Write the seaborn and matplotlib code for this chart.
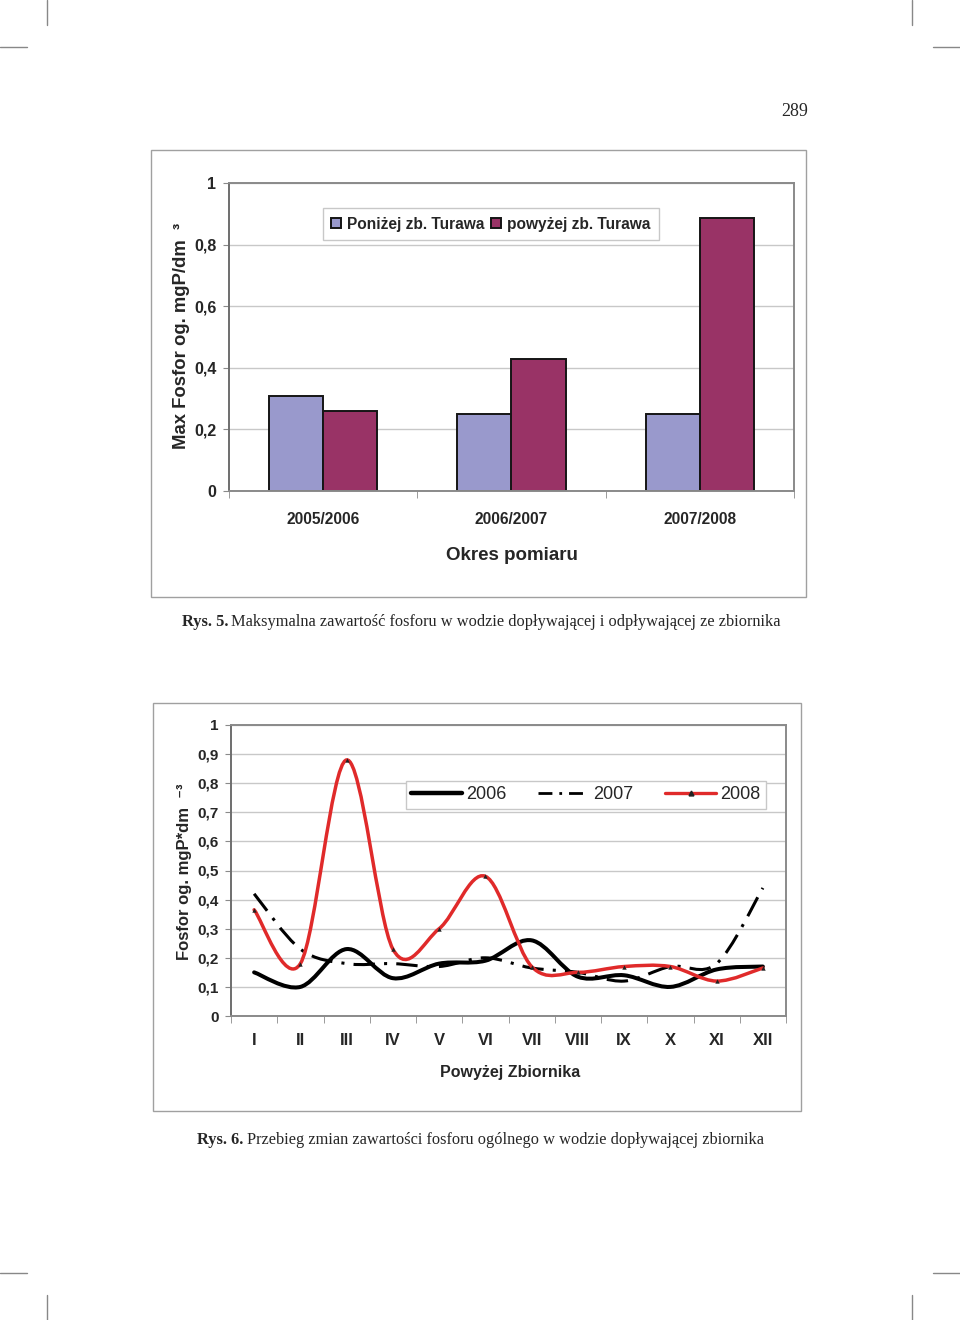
import numpy as np
import pandas as pd
import seaborn as sns
import matplotlib.pyplot as plt
from matplotlib.path import Path
from matplotlib.patches import PathPatch, Rectangle
from matplotlib.lines import Line2D

# Rys. 5 - max phosphorus per season
okresy = ['2005/2006', '2006/2007', '2007/2008']
ponizej = [0.31, 0.25, 0.25]
powyzej = [0.26, 0.43, 0.885]
stacje = ['Poniżej zb. Turawa', 'powyżej zb. Turawa']

# Rys. 6 - monthly phosphorus above the reservoir
miesiace = ['I', 'II', 'III', 'IV', 'V', 'VI', 'VII', 'VIII', 'IX', 'X', 'XI', 'XII']
p2006 = [0.15, 0.10, 0.23, 0.13, 0.18, 0.19, 0.26, 0.135, 0.14, 0.10, 0.16, 0.17]
p2007 = [0.42, 0.23, 0.18, 0.18, 0.17, 0.20, 0.165, 0.15, 0.12, 0.17, 0.18, 0.44]
p2008 = [0.365, 0.18, 0.88, 0.23, 0.30, 0.48, 0.17, 0.15, 0.17, 0.17, 0.12, 0.165]

W, H = 960, 1320
SANS = ['Liberation Sans', 'DejaVu Sans']
SERIF = ['Liberation Serif', 'DejaVu Serif']
GRID = '#c8c8c8'
FRAME = '#8a8a8a'


def fx(x):
    return x / W


def fy(y):
    return 1 - y / H


def smooth_path(xs, ys):
    # Excel-like smoothed line (Catmull-Rom as cubic Bezier)
    pts = np.column_stack([xs, ys]).astype(float)
    n = len(pts)
    verts, codes = [pts[0]], [Path.MOVETO]
    for i in range(n - 1):
        p0 = pts[max(i - 1, 0)]
        p1, p2 = pts[i], pts[i + 1]
        p3 = pts[min(i + 2, n - 1)]
        verts += [p1 + (p2 - p0) / 6, p2 - (p3 - p1) / 6, p2]
        codes += [Path.CURVE4] * 3
    return Path(verts, codes)


def style_axes(ax):
    for name, s in ax.spines.items():
        s.set_visible(True)
        s.set_color('#6e6e6e' if name == 'left' else FRAME)
        s.set_linewidth(1.4)
    ax.set_facecolor('white')
    ax.grid(axis='y', color=GRID, lw=1)
    ax.grid(axis='x', visible=False)
    ax.set_axisbelow(True)
    ax.set_xlabel('')
    ax.set_ylabel('')


sns.set_style('white')
plt.rcParams['font.family'] = SANS
plt.rcParams['font.weight'] = 'bold'

fig = plt.figure(figsize=(9.6, 13.2), dpi=100)

# page decoration: crop marks + page number
for x in (47, 912):
    fig.add_artist(Line2D([fx(x), fx(x)], [fy(0), fy(25)], color='#888888', lw=1))
    fig.add_artist(Line2D([fx(x), fx(x)], [fy(1295), fy(1320)], color='#888888', lw=1))
for y in (47, 1273):
    fig.add_artist(Line2D([fx(0), fx(27)], [fy(y), fy(y)], color='#888888', lw=1))
    fig.add_artist(Line2D([fx(933), fx(960)], [fy(y), fy(y)], color='#888888', lw=1))
fig.text(fx(795), fy(111), '289', family=SERIF, weight='normal', fontsize=13,
         ha='center', va='center')

# ---------- Rys. 5 ----------
fig.add_artist(Rectangle((fx(151), fy(597)), 655 / W, 447 / H, fill=False,
                         edgecolor='#a0a0a0', lw=1))
ax1 = fig.add_axes([fx(229), fy(491), 565 / W, 308 / H])
df5 = pd.DataFrame({
    'okres': okresy * 2,
    'wartosc': ponizej + powyzej,
    'stacja': [stacje[0]] * 3 + [stacje[1]] * 3,
})
sns.barplot(data=df5, x='okres', y='wartosc', hue='stacja',
            palette=['#9999cc', '#993366'], saturation=1, width=0.575, gap=0,
            edgecolor='#151515', linewidth=1.4, errorbar=None, ax=ax1)
style_axes(ax1)
ax1.set_xlim(-0.5, 2.5)
ax1.set_ylim(0, 1)
ax1.set_yticks(np.arange(0, 1.01, 0.2), ['0', '0,2', '0,4', '0,6', '0,8', '1'])
ax1.set_xticks([-0.5, 0.5, 1.5, 2.5], minor=True)
ax1.tick_params(axis='x', which='major', length=0, pad=15, labelsize=11.2)
ax1.tick_params(axis='x', which='minor', length=5, color=FRAME, direction='out', bottom=True)
ax1.tick_params(axis='y', length=4, color=FRAME, direction='out', left=True, pad=5,
                labelsize=11.5)
h, l = ax1.get_legend_handles_labels()
ax1.legend(h, l, loc='upper left', bbox_to_anchor=(0.166, 0.919), borderaxespad=0,
           ncol=2, fontsize=11.2, handlelength=0.65, handleheight=0.65, handletextpad=0.35,
           columnspacing=0.45, borderpad=0.55, frameon=True, fancybox=False,
           edgecolor='#c8c8c8', framealpha=1)
fig.text(fx(512), fy(556), 'Okres pomiaru', fontsize=13.5, ha='center', va='center')
fig.text(fx(182), fy(336), 'Max Fosfor og. mgP/dm  ³', fontsize=13.3, rotation=90,
         ha='center', va='center')
fig.text(fx(182), fy(622), 'Rys. 5.', family=SERIF, fontsize=11.8, ha='left', va='center')
fig.text(fx(231), fy(622),
         'Maksymalna zawartość fosforu w wodzie dopływającej i odpływającej ze zbiornika',
         family=SERIF, weight='normal', fontsize=11.8, ha='left', va='center')

# ---------- Rys. 6 ----------
fig.add_artist(Rectangle((fx(153), fy(1111)), 648 / W, 408 / H, fill=False,
                         edgecolor='#a0a0a0', lw=1))
ax2 = fig.add_axes([fx(231), fy(1016), 555 / W, 291 / H])
style_axes(ax2)
xs = np.arange(len(miesiace))
ax2.add_patch(PathPatch(smooth_path(xs, p2007), fill=False, edgecolor='black', lw=2.2,
                        linestyle=(0, (7, 3, 1, 3)), capstyle='butt', zorder=3))
ax2.add_patch(PathPatch(smooth_path(xs, p2006), fill=False, edgecolor='black', lw=2.9,
                        capstyle='round', zorder=4))
ax2.add_patch(PathPatch(smooth_path(xs, p2008), fill=False, edgecolor='#e02a2a', lw=2.5,
                        capstyle='round', zorder=5))
sns.scatterplot(x=xs, y=p2008, marker='^', s=10, color='#222222', linewidth=0,
                ax=ax2, zorder=6)
ax2.set_xlim(-0.5, 11.5)
ax2.set_ylim(0, 1)
ax2.set_yticks(np.arange(0, 1.01, 0.1),
               ['0'] + ['0,%d' % i for i in range(1, 10)] + ['1'])
ax2.set_xticks(xs, miesiace)
ax2.set_xticks(np.arange(-0.5, 12, 1), minor=True)
ax2.tick_params(axis='x', which='major', length=0, pad=12, labelsize=12)
ax2.tick_params(axis='x', which='minor', length=5, color=FRAME, direction='out', bottom=True)
ax2.tick_params(axis='y', length=4, color=FRAME, direction='out', left=True, pad=5,
                labelsize=11)
handles = [
    Line2D([], [], color='black', lw=3.2),
    Line2D([], [], color='black', lw=2, linestyle=(0, (5, 2.5, 1, 2.5))),
    Line2D([], [], color='#e02a2a', lw=2.4, marker='^', markersize=3.5,
           markerfacecolor='#222222', markeredgecolor='#222222'),
]
ax2.legend(handles, ['2006', '2007', '2008'], loc='upper right',
           bbox_to_anchor=(0.964, 0.808), borderaxespad=0, ncol=3,
           prop={'family': SANS, 'weight': 'normal', 'size': 13},
           handlelength=2.8, handletextpad=0.25, columnspacing=1.75,
           borderpad=0.3, frameon=True, fancybox=False, edgecolor='#c8c8c8',
           framealpha=1, numpoints=1)
fig.text(fx(510), fy(1073), 'Powyżej Zbiornika', fontsize=11.5, ha='center', va='center')
fig.text(fx(185), fy(872), 'Fosfor og. mgP*dm  ⁻³', fontsize=12, rotation=90,
         ha='center', va='center')
fig.text(fx(197), fy(1140), 'Rys. 6.', family=SERIF, fontsize=11.8, ha='left', va='center')
fig.text(fx(247), fy(1140),
         'Przebieg zmian zawartości fosforu ogólnego w wodzie dopływającej zbiornika',
         family=SERIF, weight='normal', fontsize=11.8, ha='left', va='center')

fig.savefig('out.png', dpi=100, facecolor='white')
